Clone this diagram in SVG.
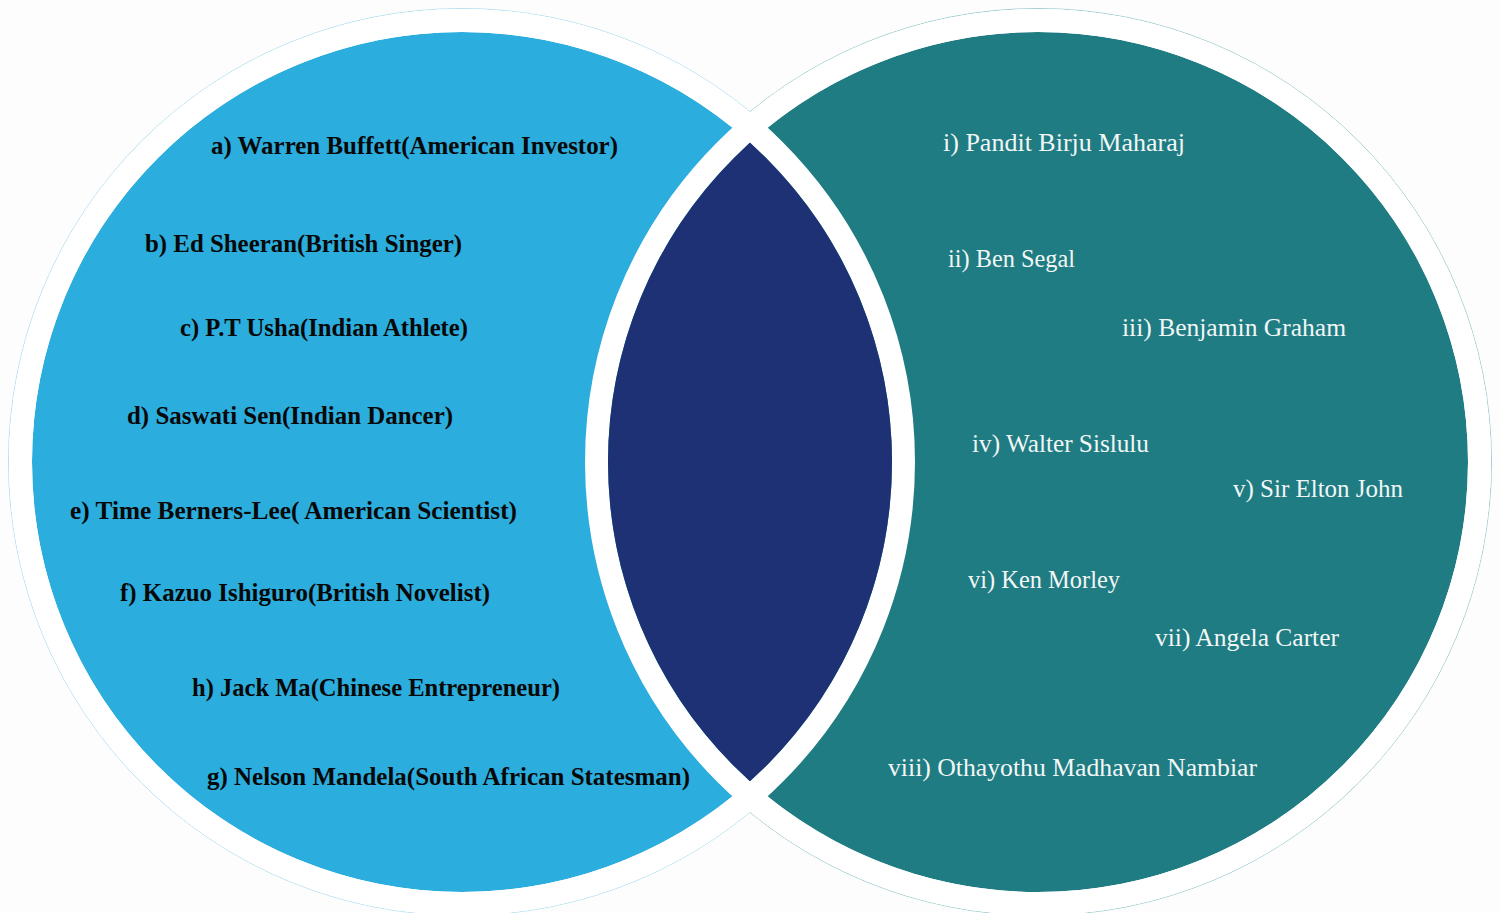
<svg xmlns="http://www.w3.org/2000/svg" width="1500" height="913" viewBox="0 0 1500 913">
  <style>
    .bg { fill: #fdfdfd; }
    .halo { fill: none; stroke-width: 1; }
    .white { fill: #ffffff; }
    .band { fill: none; stroke: #ffffff; stroke-width: 23; }
    .lbl-l { font-family: "Liberation Serif", "Times New Roman", serif; font-weight: bold; font-size: 25px; fill: #080808; }
    .lbl-r { font-family: "Liberation Serif", "Times New Roman", serif; font-size: 25px; fill: #f3f6f6; }
  </style>
  <defs>
    <clipPath id="clip-left">
      <circle cx="462" cy="462" r="430"/>
    </clipPath>
  </defs>

  <rect class="bg" x="0" y="0" width="1500" height="913"/>

  <!-- outer halos of both circles -->
  <g id="halos">
    <circle class="halo" cx="462" cy="462" r="453.5" stroke="#b5e1f1"/>
    <circle class="halo" cx="1038" cy="462" r="453.5" stroke="#a3cfd2"/>
    <circle class="white" cx="462" cy="462" r="453"/>
    <circle class="white" cx="1038" cy="462" r="453"/>
  </g>

  <!-- left set -->
  <g id="set-left">
    <circle cx="462" cy="462" r="430" fill="#2badde"/>
  </g>

  <!-- right set -->
  <g id="set-right">
    <circle cx="1038" cy="462" r="430" fill="#1e7c82"/>
  </g>

  <!-- white separating bands around the overlap -->
  <g id="bands">
    <circle class="band" cx="1038" cy="462" r="441.5"/>
    <circle class="band" cx="462" cy="462" r="441.5"/>
  </g>

  <!-- intersection -->
  <g id="set-overlap">
    <circle cx="1038" cy="462" r="430" fill="#1d3174" clip-path="url(#clip-left)"/>
  </g>

  <!-- labels of the left set -->
  <g id="labels-left">
    <text class="lbl-l" x="211" y="154" textLength="407" lengthAdjust="spacingAndGlyphs">a) Warren Buffett(American Investor)</text>
    <text class="lbl-l" x="145" y="252" textLength="317" lengthAdjust="spacingAndGlyphs">b) Ed Sheeran(British Singer)</text>
    <text class="lbl-l" x="180" y="336" textLength="288" lengthAdjust="spacingAndGlyphs">c) P.T Usha(Indian Athlete)</text>
    <text class="lbl-l" x="127" y="424" textLength="326" lengthAdjust="spacingAndGlyphs">d) Saswati Sen(Indian Dancer)</text>
    <text class="lbl-l" x="70" y="519" textLength="447" lengthAdjust="spacingAndGlyphs">e) Time Berners-Lee( American Scientist)</text>
    <text class="lbl-l" x="120" y="601" textLength="370" lengthAdjust="spacingAndGlyphs">f) Kazuo Ishiguro(British Novelist)</text>
    <text class="lbl-l" x="192" y="696" textLength="368" lengthAdjust="spacingAndGlyphs">h) Jack Ma(Chinese Entrepreneur)</text>
    <text class="lbl-l" x="207" y="785" textLength="483" lengthAdjust="spacingAndGlyphs">g) Nelson Mandela(South African Statesman)</text>
  </g>

  <!-- labels of the right set -->
  <g id="labels-right">
    <text class="lbl-r" x="943" y="151" textLength="242" lengthAdjust="spacingAndGlyphs">i) Pandit Birju Maharaj</text>
    <text class="lbl-r" x="948" y="267" textLength="127" lengthAdjust="spacingAndGlyphs">ii) Ben Segal</text>
    <text class="lbl-r" x="1122" y="336" textLength="224" lengthAdjust="spacingAndGlyphs">iii) Benjamin Graham</text>
    <text class="lbl-r" x="972" y="452" textLength="177" lengthAdjust="spacingAndGlyphs">iv) Walter Sislulu</text>
    <text class="lbl-r" x="1233" y="497" textLength="170" lengthAdjust="spacingAndGlyphs">v) Sir Elton John</text>
    <text class="lbl-r" x="968" y="588" textLength="152" lengthAdjust="spacingAndGlyphs">vi) Ken Morley</text>
    <text class="lbl-r" x="1155" y="646" textLength="184" lengthAdjust="spacingAndGlyphs">vii) Angela Carter</text>
    <text class="lbl-r" x="888" y="776" textLength="369" lengthAdjust="spacingAndGlyphs">viii) Othayothu Madhavan Nambiar</text>
  </g>
</svg>
